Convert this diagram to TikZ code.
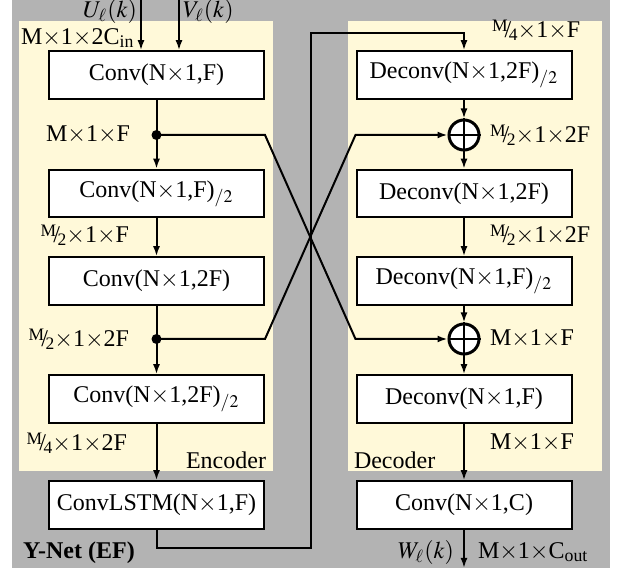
\documentclass[tikz,border=0pt]{standalone}
\usepackage{mathptmx}
\usepackage{fontspec}
\setmainfont{Liberation Serif}
\usetikzlibrary{arrows.meta}
\definecolor{bggray}{RGB}{179,179,179}
\definecolor{panelyellow}{RGB}{255,249,217}
\newcommand{\nfr}[2]{\raisebox{.55ex}{\scriptsize #1}\kern-.12em/\kern-.1em\raisebox{-.25ex}{\scriptsize #2}}
\newcommand{\tms}{\ensuremath{{\times}}}
\begin{document}
\begin{tikzpicture}[x=0.4pt,y=-0.4pt,line width=0.8pt,
	  >={Latex[length=4pt,width=2.8pt]},
	  conv node/.style={draw,fill=white,minimum width=86pt,minimum height=19pt,inner sep=0pt,font=\fontsize{9.6}{11}\selectfont},
	  sum node/.style={circle,draw,fill=white,line width=1.2pt,minimum size=12pt,inner sep=0pt},
	  dim node/.style={inner sep=0pt,font=\fontsize{9.6}{11}\selectfont}]

	  % background and panels
	  \fill[bggray] (12,0) rectangle (610,568);
	  \fill[panelyellow] (19,21) rectangle (273,471);
	  \fill[panelyellow] (348,21) rectangle (602,471);
	  \useasboundingbox (0,0) rectangle (621,572);

	  % encoder
	  \node[conv node] (e1) at (156.5,75) {Conv(N\tms1,F)};
	  \node[conv node] (e2) at (156.5,193.5) {Conv(N\tms1,F)$_{/2}$};
	  \node[conv node] (e3) at (156.5,281) {Conv(N\tms1,2F)};
	  \node[conv node] (e4) at (156.5,399) {Conv(N\tms1,2F)$_{/2}$};
	  \node[conv node] (lstm) at (156.5,505) {ConvLSTM(N\tms1,F)};

	  % decoder
	  \node[conv node] (d1) at (464,75) {Deconv(N\tms1,2F)$_{/2}$};
	  \node[sum node] (s1) at (464,135) {};
	  \node[conv node] (d2) at (464,193.5) {Deconv(N\tms1,2F)};
	  \node[conv node] (d3) at (464,281) {Deconv(N\tms1,F)$_{/2}$};
	  \node[sum node] (s2) at (464,339) {};
	  \node[conv node] (d4) at (464,399) {Deconv(N\tms1,F)};
	  \node[conv node] (out) at (464,505) {Conv(N\tms1,C)};
	  \draw (s1.north) -- (s1.south) (s1.west) -- (s1.east);
	  \draw (s2.north) -- (s2.south) (s2.west) -- (s2.east);

	  \coordinate (uin) at (141,0);
	  \coordinate (vin) at (179,0);
	  \coordinate (j1) at (156.5,135);
	  \coordinate (j2) at (156.5,339);
	  \coordinate (c1) at (311,548);
	  \coordinate (c2) at (311,33);
	  \coordinate (wout) at (464,568);

	  \path[->]
	    (uin) edge (uin |- e1.north)
	    (vin) edge (vin |- e1.north)
	    (e1) edge (e2)
	    (e2) edge (e3)
	    (e3) edge (e4)
	    (e4) edge (lstm)
	    (d1) edge (s1)
	    (s1) edge (d2)
	    (d2) edge (d3)
	    (d3) edge (s2)
	    (s2) edge (d4)
	    (d4) edge (out)
	    (out) edge (wout);

	  % skip connections and the bottleneck loop
	  \draw[->] (j1) -- (j1 -| e1.east) -- (s2 -| d1.west) -- (s2);
	  \draw[->] (j2) -- (j2 -| e1.east) -- (s1 -| d1.west) -- (s1);
	  \draw[->] (lstm.south) |- (c1) -- (c2) -| (d1.north);
	  \fill (j1) circle (2pt);
	  \fill (j2) circle (2pt);

	  % labels
	  \node[dim node,anchor=east] (ulab) at (138,12) {$U_\ell(k)$};
	  \node[dim node,anchor=west] (vlab) at (182,12) {$V_\ell(k)$};
	  \node[dim node,anchor=west] (inlab) at (20,38) {M\tms1\tms2C\textsubscript{in}};
	  \node[dim node,anchor=east] (l1) at (131,135) {M\tms1\tms F};
	  \node[dim node,anchor=east] (l2) at (130,235) {\nfr{M}{2}\tms1\tms F};
	  \node[dim node,anchor=east] (l3) at (130,339) {\nfr{M}{2}\tms1\tms2F};
	  \node[dim node,anchor=east] (l4) at (128,443) {\nfr{M}{4}\tms1\tms2F};
	  \node[dim node,anchor=east] (enc) at (267,460) {Encoder};
	  \node[dim node,anchor=west] (title) at (22,553) {\textbf{Y-Net (EF)}};
	  \node[dim node,anchor=west] (r1) at (491,30) {\nfr{M}{4}\tms1\tms F};
	  \node[dim node,anchor=west] (r2) at (489,135) {\nfr{M}{2}\tms1\tms2F};
	  \node[dim node,anchor=west] (r3) at (489,235) {\nfr{M}{2}\tms1\tms2F};
	  \node[dim node,anchor=west] (r4) at (489,339) {M\tms1\tms F};
	  \node[dim node,anchor=west] (r5) at (489,443) {M\tms1\tms F};
	  \node[dim node,anchor=west] (dec) at (353,460) {Decoder};
	  \node[dim node,anchor=east] (wlab) at (455,553) {$W_\ell(k)$};
	  \node[dim node,anchor=west] (outlab) at (477,552) {M\tms1\tms C\textsubscript{out}};

	\end{tikzpicture}
\end{document}
